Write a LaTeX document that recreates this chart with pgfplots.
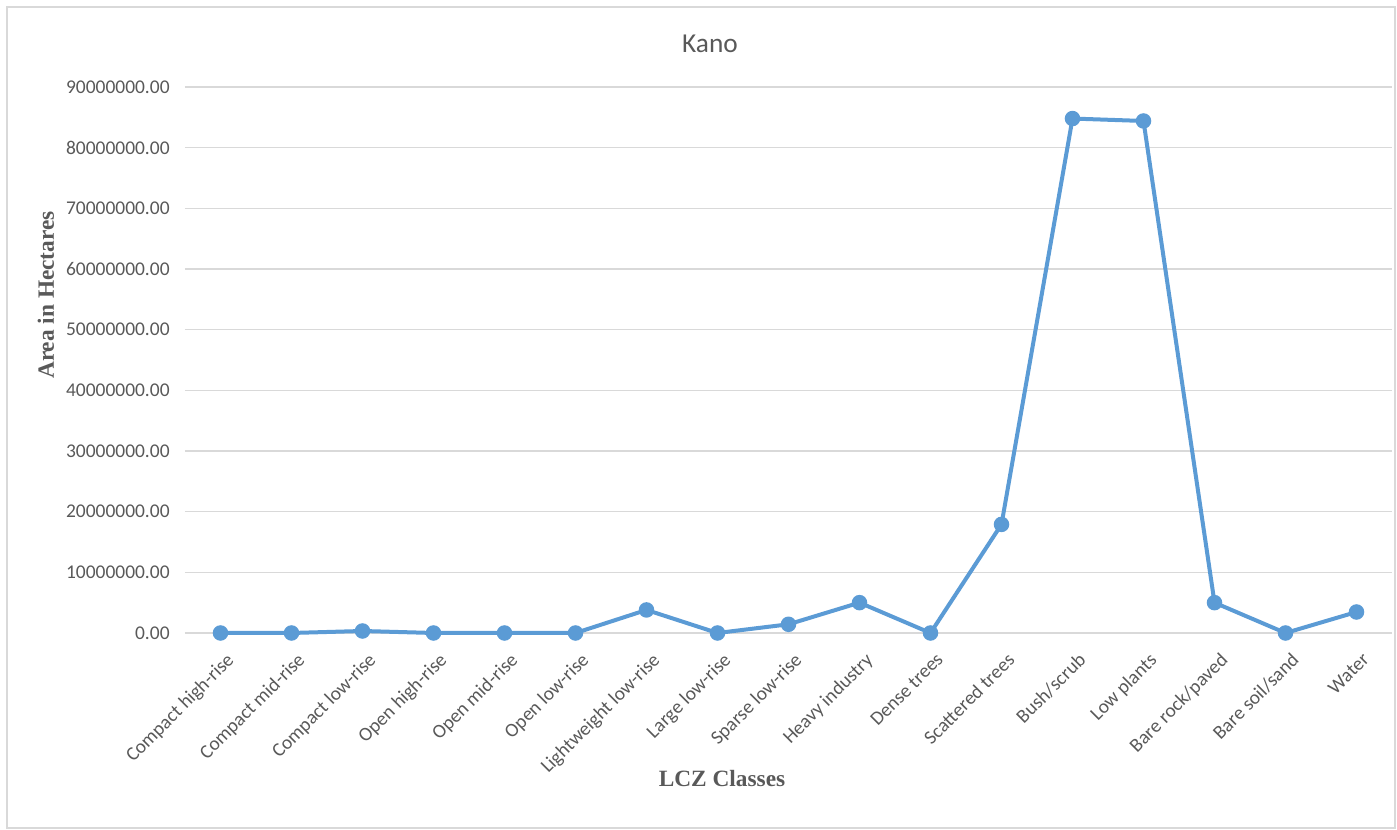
\documentclass[border=0pt]{standalone}
\usepackage{pgfplots}
\pgfplotsset{compat=1.18}
\usepackage{fontspec}
\setmainfont{Carlito}
\newfontfamily\serifbold[BoldFont={Liberation Serif Bold}]{Liberation Serif}

\definecolor{seriesblue}{HTML}{5B9BD5}
\definecolor{gridgray}{HTML}{D9D9D9}
\definecolor{textgray}{HTML}{595959}
\definecolor{framegray}{HTML}{D9D9D9}

% Area of each LCZ class (hectares), in class order 0..16
\pgfplotstableread{
idx area
0  0
1  0
2  330000
3  0
4  0
5  0
6  3800000
7  0
8  1430000
9  5000000
10 0
11 17900000
12 84800000
13 84400000
14 5000000
15 0
16 3460000
}\kanodata

\begin{document}
\begin{tikzpicture}
% page extent and chart-area frame
\useasboundingbox (0,0) rectangle (1047.75pt,622.5pt);
\draw[framegray, line width=1.2pt] (5.25pt,1.5pt) rectangle (1046.25pt,617.25pt);

\begin{axis}[
  at={(138.75pt,147.75pt)}, anchor=south west,
  scale only axis,
  width=905.25pt, height=409.5pt,
  xmin=-0.5, xmax=16.5,
  ymin=0, ymax=90000000,
  ytick={0,10000000,...,90000000},
  xtick={0,...,16},
  xticklabels={Compact high-rise,Compact mid-rise,Compact low-rise,Open high-rise,Open mid-rise,Open low-rise,Lightweight low-rise,Large low-rise,Sparse low-rise,Heavy industry,Dense trees,Scattered trees,Bush/scrub,Low plants,Bare rock/paved,Bare soil/sand,Water},
  axis line style={draw=none},
  major tick length=0pt,
  ymajorgrids,
  grid style={gridgray, line width=0.8pt},
  scaled y ticks=false,
  yticklabel style={
    /pgf/number format/.cd, fixed, fixed zerofill, precision=2, 1000 sep={}, assume math mode=true,
    /tikz/.cd, font=\fontsize{14.6}{17}\selectfont, text=textgray, xshift=-8pt},
  xticklabel style={font=\fontsize{14.6}{17}\selectfont, text=textgray,
    rotate=45, anchor=north east, xshift=-4pt, yshift=-9pt},
  clip=false,
]
\addplot[seriesblue, line width=3pt, mark=*, mark size=4.3pt,
  mark options={fill=seriesblue, draw=none}]
  table[x=idx, y=area] {\kanodata};
\end{axis}

% titles
\node[text=textgray, font=\fontsize{20.5}{24}\selectfont] at (532.5pt,589.5pt) {Kano};
\node[text=textgray, font=\serifbold\bfseries\fontsize{17.5}{20}\selectfont, rotate=90] at (34.5pt,401.25pt) {Area in Hectares};
\node[text=textgray, font=\serifbold\bfseries\fontsize{17.5}{20}\selectfont] at (541.5pt,38.25pt) {LCZ Classes};
\end{tikzpicture}
\end{document}
